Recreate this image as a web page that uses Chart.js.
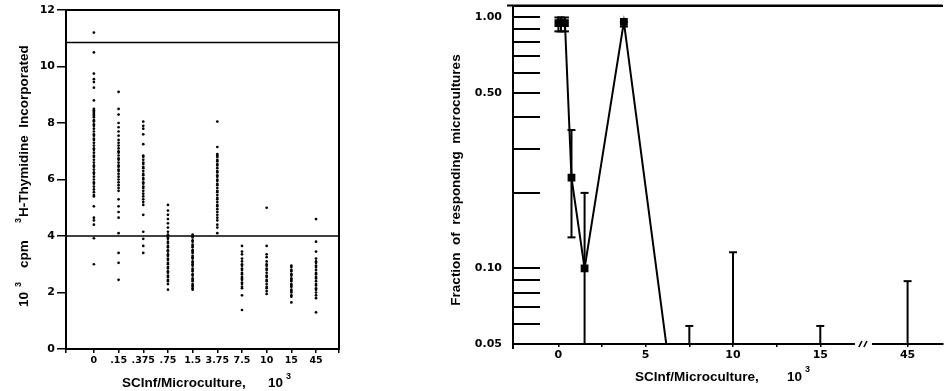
<!DOCTYPE html>
<html><head><meta charset="utf-8">
<script src="https://cdn.jsdelivr.net/npm/chart.js@4/dist/chart.umd.min.js"></script>
<style>
html,body{margin:0;padding:0;background:#fff;}
body{width:948px;height:391px;position:relative;overflow:hidden;}
#cl{position:absolute;left:0;top:0;}
#cr{position:absolute;left:420px;top:0;}
</style></head><body>
<canvas id="cl" width="350" height="391"></canvas>
<canvas id="cr" width="528" height="391"></canvas>
<script>
// ---------- LEFT PANEL DATA (10^3 cpm per microculture) ----------
const leftCategories = ['0', '.15', '.375', '.75', '1.5', '3.75', '7.5', '10', '15', '45'];
const cpm_0 = [11.2, 10.5, 9.75, 9.55, 9.45, 9.25, 8.8, 8.5, 8.45, 8.4, 8.35, 8.3, 8.25, 8.2, 8.1, 8.05, 7.95, 7.9, 7.8, 7.7, 7.6, 7.55, 7.45, 7.4, 7.3, 7.2, 7.1, 7.05, 6.95, 6.85, 6.8, 6.7, 6.6, 6.5, 6.45, 6.35, 6.25, 6.2, 6.1, 6.0, 5.9, 5.85, 5.75, 5.65, 5.55, 5.45, 5.4, 5.05, 4.65, 4.55, 4.4, 3.92, 3.0];
const cpm_015 = [9.1, 8.5, 8.3, 8.0, 7.85, 7.7, 7.55, 7.4, 7.3, 7.2, 7.1, 7.0, 6.95, 6.85, 6.75, 6.7, 6.6, 6.5, 6.45, 6.35, 6.3, 6.2, 6.1, 6.0, 5.9, 5.8, 5.7, 5.6, 5.3, 5.05, 4.85, 4.65, 4.1, 3.4, 3.05, 2.45];
const cpm_0375 = [8.05, 7.9, 7.8, 7.6, 7.25, 6.85, 6.8, 6.7, 6.6, 6.55, 6.45, 6.4, 6.3, 6.2, 6.15, 6.05, 6.0, 5.9, 5.85, 5.75, 5.7, 5.6, 5.5, 5.4, 5.3, 5.2, 5.1, 4.75, 4.15, 3.9, 3.65, 3.4];
const cpm_075 = [5.1, 4.9, 4.75, 4.6, 4.45, 4.3, 4.15, 4.05, 4.0, 3.95, 3.9, 3.8, 3.75, 3.65, 3.6, 3.5, 3.45, 3.35, 3.3, 3.2, 3.15, 3.05, 3.0, 2.9, 2.85, 2.75, 2.7, 2.6, 2.55, 2.45, 2.4, 2.3, 2.1];
const cpm_15 = [4.05, 4.0, 3.95, 3.85, 3.8, 3.7, 3.65, 3.6, 3.5, 3.45, 3.4, 3.3, 3.25, 3.2, 3.1, 3.05, 3.0, 2.95, 2.85, 2.8, 2.75, 2.65, 2.6, 2.5, 2.45, 2.4, 2.3, 2.25, 2.2, 2.15, 2.1];
const cpm_375 = [8.05, 7.15, 6.9, 6.85, 6.8, 6.7, 6.65, 6.55, 6.5, 6.4, 6.3, 6.25, 6.15, 6.1, 6.0, 5.95, 5.85, 5.8, 5.7, 5.6, 5.55, 5.45, 5.35, 5.3, 5.2, 5.1, 5.05, 4.95, 4.85, 4.75, 4.65, 4.55, 4.4, 4.3, 4.1];
const cpm_75 = [3.65, 3.45, 3.35, 3.2, 3.1, 3.0, 2.95, 2.85, 2.8, 2.7, 2.65, 2.55, 2.5, 2.45, 2.35, 2.3, 2.2, 2.15, 1.9, 1.38];
const cpm_10 = [5.0, 3.65, 3.35, 3.25, 3.1, 3.0, 2.95, 2.85, 2.8, 2.7, 2.6, 2.55, 2.45, 2.4, 2.3, 2.2, 2.15, 2.05, 1.95];
const cpm_15k = [2.95, 2.9, 2.8, 2.75, 2.65, 2.6, 2.5, 2.45, 2.4, 2.3, 2.25, 2.2, 2.1, 2.05, 2.0, 1.9, 1.85, 1.65];
const cpm_45 = [4.6, 3.8, 3.45, 3.2, 3.1, 3.05, 2.95, 2.9, 2.8, 2.7, 2.65, 2.55, 2.5, 2.4, 2.3, 2.25, 2.15, 2.1, 2.0, 1.9, 1.8, 1.3];
const leftColumns = [cpm_0, cpm_015, cpm_0375, cpm_075, cpm_15, cpm_375, cpm_75, cpm_10, cpm_15k, cpm_45];
const thresholdLines = [10.85, 4.0];
const leftYTicks = [0, 2, 4, 6, 8, 10, 12];

// ---------- RIGHT PANEL DATA (fraction of responding microcultures) ----------
const rightX = [0, 0.15, 0.375, 0.75, 1.5, 3.75, 7.5, 10, 15, 45];
const fraction = [0.95, 0.95, 0.95, 0.23, 0.10, 0.96, 0.01, null, null, null]; // 7.5: ~0, below axis
const errLow  = [0.88, 0.88, 0.88, 0.133, 0, 0.92, 0, 0, 0, 0];   // 0 = bar reaches axis
const errHigh = [1.0, 1.0, 1.0, 0.356, 0.2, 0.96, 0.059, 0.116, 0.059, 0.089];
const rightYTicks = [0.05, 0.06, 0.07, 0.08, 0.09, 0.1, 0.2, 0.3, 0.4, 0.5, 0.6, 0.7, 0.8, 0.9, 1.0];
const rightYLabelled = [0.05, 0.1, 0.5, 1.0];
const rightXTicks = [0, 2.5, 5, 7.5, 10, 12.5, 15, 45];
const rightXLabelled = [0, 5, 10, 15, 45];
const axisBreak = { at: 45, shownAt: 20, mark: 17.5 };

function xPos(v) { return v >= axisBreak.at ? v - (axisBreak.at - axisBreak.shownAt) : v; }

const BLACK = '#000';
const TICK_FONT = { family: 'DejaVu Sans', weight: 'bold', size: 11 };
const TITLE_FONT = 'bold 13.5px "Liberation Sans", Arial, sans-serif';
const SUP_FONT = 'bold 9px "Liberation Sans", Arial, sans-serif';

// ---------- LEFT CHART ----------
const LX_MIN = -1.13, LX_MAX = 9.93;
const leftTitles = {
  id: 'leftTitles',
  afterDraw(chart) {
    const ctx = chart.ctx;
    ctx.save();
    ctx.fillStyle = BLACK;
    ctx.textBaseline = 'alphabetic';
    ctx.textAlign = 'left';
    ctx.font = TITLE_FONT;
    ctx.fillText('SCInf/Microculture,', 122, 387);
    ctx.fillText('10', 268, 387);
    ctx.font = SUP_FONT;
    ctx.fillText('3', 286, 379);
    // rotated y title
    ctx.translate(28, 0);
    ctx.rotate(-Math.PI / 2);
    ctx.font = TITLE_FONT;
    ctx.fillText('10', -307, 0);
    ctx.font = SUP_FONT;
    ctx.fillText('3', -287, -7);
    ctx.font = TITLE_FONT;
    ctx.fillText('cpm', -268, 0);
    ctx.font = SUP_FONT;
    ctx.fillText('3', -223, -7);
    ctx.font = TITLE_FONT;
    ctx.fillText('H-Thymidine  Incorporated', -217, 0);
    ctx.restore();
  }
};

const leftDatasets = leftColumns.map((col, i) => ({
  label: leftCategories[i],
  data: col.map(v => ({ x: i, y: v })),
  pointRadius: 1.35,
  pointBackgroundColor: BLACK,
  pointBorderWidth: 0,
  showLine: false
}));
thresholdLines.forEach(v => leftDatasets.push({
  label: 'threshold',
  data: [{ x: LX_MIN, y: v }, { x: LX_MAX, y: v }],
  showLine: true,
  borderColor: BLACK,
  borderWidth: 1.6,
  pointRadius: 0
}));

new Chart(document.getElementById('cl'), {
  type: 'scatter',
  data: { datasets: leftDatasets },
  options: {
    responsive: false, animation: false, devicePixelRatio: 1,
    layout: { padding: { left: 0, right: 11, top: 10, bottom: 0 } },
    plugins: { legend: { display: false }, tooltip: { enabled: false } },
    scales: {
      x: {
        type: 'linear', min: LX_MIN, max: LX_MAX,
        afterBuildTicks: s => { s.ticks = [{ value: LX_MIN }].concat(leftCategories.map((c, i) => ({ value: i })), [{ value: LX_MAX }]); },
        ticks: { autoSkip: false, maxRotation: 0, color: BLACK, padding: 2,
          font: { family: 'DejaVu Sans', weight: 'bold', size: 9.5 },
          callback: v => Number.isInteger(v) ? leftCategories[v] : '' },
        grid: { drawOnChartArea: false, drawTicks: true, tickLength: 4, color: BLACK, lineWidth: 1.5 },
        border: { display: true, color: BLACK, width: 2 },
        afterFit: s => { s.height = 42; s.paddingLeft = 0; s.paddingRight = 0; }
      },
      y: {
        type: 'linear', min: 0, max: 12,
        afterBuildTicks: s => { s.ticks = leftYTicks.map(v => ({ value: v })); },
        ticks: { color: BLACK, padding: 2, font: TICK_FONT, autoSkip: false },
        grid: { drawOnChartArea: false, tickLength: 9, color: BLACK, lineWidth: 1.5 },
        border: { display: true, color: BLACK, width: 2 },
        afterFit: s => { s.width = 66; s.paddingTop = 0; s.paddingBottom = 0; }
      },
      x2: {
        axis: 'x', position: 'top', type: 'linear', min: LX_MIN, max: LX_MAX,
        ticks: { display: false }, grid: { display: false },
        border: { display: true, color: BLACK, width: 2 },
        afterFit: s => { s.height = 0; }
      },
      y2: {
        axis: 'y', position: 'right', type: 'linear', min: 0, max: 12,
        ticks: { display: false }, grid: { display: false },
        border: { display: true, color: BLACK, width: 2 },
        afterFit: s => { s.width = 0; }
      }
    }
  },
  plugins: [leftTitles]
});

// ---------- RIGHT CHART ----------
const RX_MIN = -2.6, RX_MAX = 22.0;
const errorBars = {
  id: 'errorBars',
  beforeDatasetsDraw(chart) {
    const { ctx, chartArea: a, scales: { x, y } } = chart;
    ctx.save();
    ctx.strokeStyle = BLACK; ctx.lineWidth = 2;
    rightX.forEach((xv, i) => {
      const px = x.getPixelForValue(xPos(xv));
      const top = y.getPixelForValue(errHigh[i]);
      const bot = errLow[i] > 0 ? y.getPixelForValue(errLow[i]) : a.bottom;
      ctx.beginPath(); ctx.moveTo(px, top); ctx.lineTo(px, bot); ctx.stroke();
      ctx.beginPath(); ctx.moveTo(px - 4, top); ctx.lineTo(px + 4, top); ctx.stroke();
      if (errLow[i] > 0) { ctx.beginPath(); ctx.moveTo(px - 4, bot); ctx.lineTo(px + 4, bot); ctx.stroke(); }
    });
    ctx.restore();
  }
};
const breakAndTitles = {
  id: 'breakAndTitles',
  afterDraw(chart) {
    const { ctx, chartArea: a, scales: { x } } = chart;
    ctx.save();
    // axis extensions (y axis below baseline, top rule across the panel)
    ctx.strokeStyle = BLACK; ctx.lineWidth = 2;
    ctx.beginPath();
    ctx.moveTo(a.left, a.bottom); ctx.lineTo(a.left, a.bottom + 5);
    ctx.moveTo(a.left - 6, a.top); ctx.lineTo(a.right, a.top);
    ctx.stroke();
    // axis break
    const cx = x.getPixelForValue(axisBreak.mark);
    ctx.fillStyle = '#fff';
    ctx.fillRect(cx - 9, a.bottom - 3, 17, 6);
    ctx.lineWidth = 1.6;
    ctx.beginPath();
    ctx.moveTo(cx - 5, a.bottom + 3); ctx.lineTo(cx - 2, a.bottom - 3);
    ctx.moveTo(cx + 0, a.bottom + 3); ctx.lineTo(cx + 3, a.bottom - 3);
    ctx.stroke();
    // titles
    ctx.fillStyle = BLACK;
    ctx.textBaseline = 'alphabetic'; ctx.textAlign = 'left';
    ctx.font = TITLE_FONT;
    ctx.fillText('SCInf/Microculture,', 215, 381);
    ctx.fillText('10', 367, 381);
    ctx.font = SUP_FONT;
    ctx.fillText('3', 385, 372);
    ctx.translate(40, 0);
    ctx.rotate(-Math.PI / 2);
    ctx.font = TITLE_FONT;
    ctx.textAlign = 'center';
    ctx.fillText('Fraction  of  responding  microcultures', -180, 0);
    ctx.restore();
  }
};

new Chart(document.getElementById('cr'), {
  type: 'line',
  data: { datasets: [{
    label: 'fraction',
    data: rightX.map((xv, i) => ({ x: xPos(xv), y: fraction[i] })),
    borderColor: BLACK, borderWidth: 2, tension: 0, spanGaps: false,
    pointStyle: 'rect', pointRadius: 5.5, pointBackgroundColor: BLACK, pointBorderWidth: 0
  }] },
  options: {
    responsive: false, animation: false, devicePixelRatio: 1,
    layout: { padding: { left: 0, right: 0, top: 4, bottom: 0 } },
    plugins: { legend: { display: false }, tooltip: { enabled: false } },
    scales: {
      x: {
        type: 'linear', min: RX_MIN, max: RX_MAX,
        afterBuildTicks: s => { s.ticks = rightXTicks.map(v => ({ value: xPos(v) })); },
        ticks: { autoSkip: false, maxRotation: 0, color: BLACK, padding: 2, font: TICK_FONT,
          callback: v => { const t = rightXTicks.find(r => xPos(r) === v); return rightXLabelled.includes(t) ? String(t) : ''; } },
        grid: { drawOnChartArea: false, tickLength: 3, color: BLACK, lineWidth: 1.5 },
        border: { display: true, color: BLACK, width: 2 },
        afterFit: s => { s.height = 47; s.paddingLeft = 0; s.paddingRight = 0; }
      },
      y: {
        type: 'logarithmic', min: 0.05, max: 1.116,
        afterBuildTicks: s => { s.ticks = rightYTicks.map(v => ({ value: v })); },
        ticks: { autoSkip: false, color: BLACK, padding: 38, font: TICK_FONT,
          callback: v => rightYLabelled.includes(v) ? v.toFixed(2) : '' },
        grid: { drawOnChartArea: false, tickLength: -27, color: BLACK, lineWidth: 2 },
        border: { display: true, color: BLACK, width: 2 },
        afterFit: s => { s.width = 93; s.paddingTop = 0; s.paddingBottom = 0; }
      },
      x2: {
        axis: 'x', position: 'top', type: 'linear', min: RX_MIN, max: RX_MAX,
        ticks: { display: false }, grid: { display: false },
        border: { display: true, color: BLACK, width: 2 },
        afterFit: s => { s.height = 0; }
      }
    }
  },
  plugins: [errorBars, breakAndTitles]
});
</script>
</body></html>
